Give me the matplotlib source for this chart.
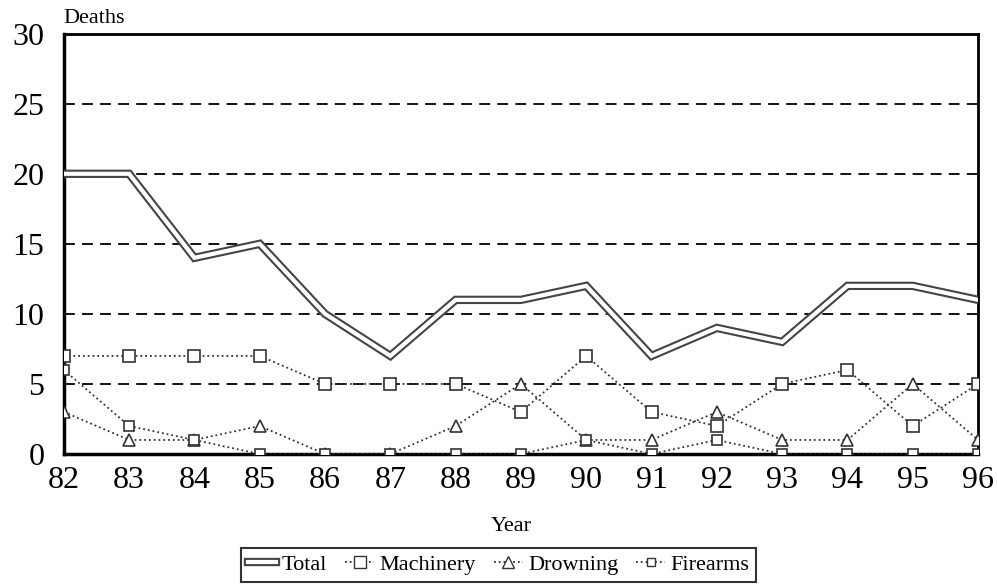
import matplotlib
matplotlib.use("Agg")
import matplotlib.pyplot as plt
from matplotlib.lines import Line2D

plt.rcParams['font.family'] = ['Liberation Serif', 'DejaVu Serif']

years = ["82", "83", "84", "85", "86", "87", "88", "89", "90", "91", "92", "93", "94", "95", "96"]
total = [20, 20, 14, 15, 10, 7, 11, 11, 12, 7, 9, 8, 12, 12, 11]
machinery = [7, 7, 7, 7, 5, 5, 5, 3, 7, 3, 2, 5, 6, 2, 5]
drowning = [3, 1, 1, 2, 0, 0, 2, 5, 1, 1, 3, 1, 1, 5, 1]
firearms = [6, 2, 1, 0, 0, 0, 0, 0, 1, 0, 1, 0, 0, 0, 0]

x = list(range(len(years)))

fig = plt.figure(figsize=(9.97, 5.87), dpi=100)
ax = fig.add_axes([0.064, 0.2266, 0.917, 0.716])

# dashed grid at 5..25
for v in [5, 10, 15, 20, 25]:
	ax.axhline(v, color='black', lw=1.3, ls=(0, (6, 4)), zorder=1)

# total: hollow double line
ax.plot(x, total, color='#444444', lw=6, solid_joinstyle='miter', zorder=3)
ax.plot(x, total, color='white', lw=3, solid_joinstyle='miter', zorder=4)

mk = dict(mfc='white', mec='#333333', mew=1.2, zorder=5)
ax.plot(x, machinery, color='#333333', lw=1.3, ls=':', marker='s', ms=9, **mk)
ax.plot(x, drowning, color='#333333', lw=1.3, ls=':', marker='^', ms=9, **mk)
ax.plot(x, firearms, color='#333333', lw=1.3, ls=':', marker='s', ms=7, **mk)

ax.set_xlim(0, len(years) - 1)
ax.set_ylim(0, 30)
ax.set_xticks(x)
ax.set_xticklabels(years, fontsize=23)
ax.set_yticks([0, 5, 10, 15, 20, 25, 30])
ax.set_yticklabels(["0", "5", "10", "15", "20", "25", "30"], fontsize=23)
ax.tick_params(axis='x', length=0, pad=9)
ax.tick_params(axis='y', length=0, pad=14)

for s in ['left', 'bottom']:
	ax.spines[s].set_linewidth(2.5)
for s in ['top', 'right']:
	ax.spines[s].set_linewidth(2)

fig.text(0.064, 0.968, "Deaths", fontsize=16, ha='left', va='center')
fig.text(0.513, 0.103, "Year", fontsize=16, ha='center', va='center')

# legend with proxy handles
h_total = (Line2D([], [], color='#444444', lw=6), Line2D([], [], color='white', lw=3))
h_mach = Line2D([], [], color='#333333', lw=1.3, ls=':', marker='s', ms=8, mfc='white', mec='#333333')
h_drown = Line2D([], [], color='#333333', lw=1.3, ls=':', marker='^', ms=8, mfc='white', mec='#333333')
h_fire = Line2D([], [], color='#333333', lw=1.3, ls=':', marker='s', ms=6, mfc='white', mec='#333333')
leg = fig.legend([h_total, h_mach, h_drown, h_fire], ["Total", "Machinery", "Drowning", "Firearms"],
	loc='center', bbox_to_anchor=(0.5, 0.038), ncol=4, fontsize=16, frameon=True, fancybox=False,
	handlelength=1.3, handletextpad=0.25, columnspacing=0.8, borderpad=0.3)
leg.get_frame().set_edgecolor('black')
leg.get_frame().set_linewidth(1.5)

fig.savefig("out.png", dpi=100)
